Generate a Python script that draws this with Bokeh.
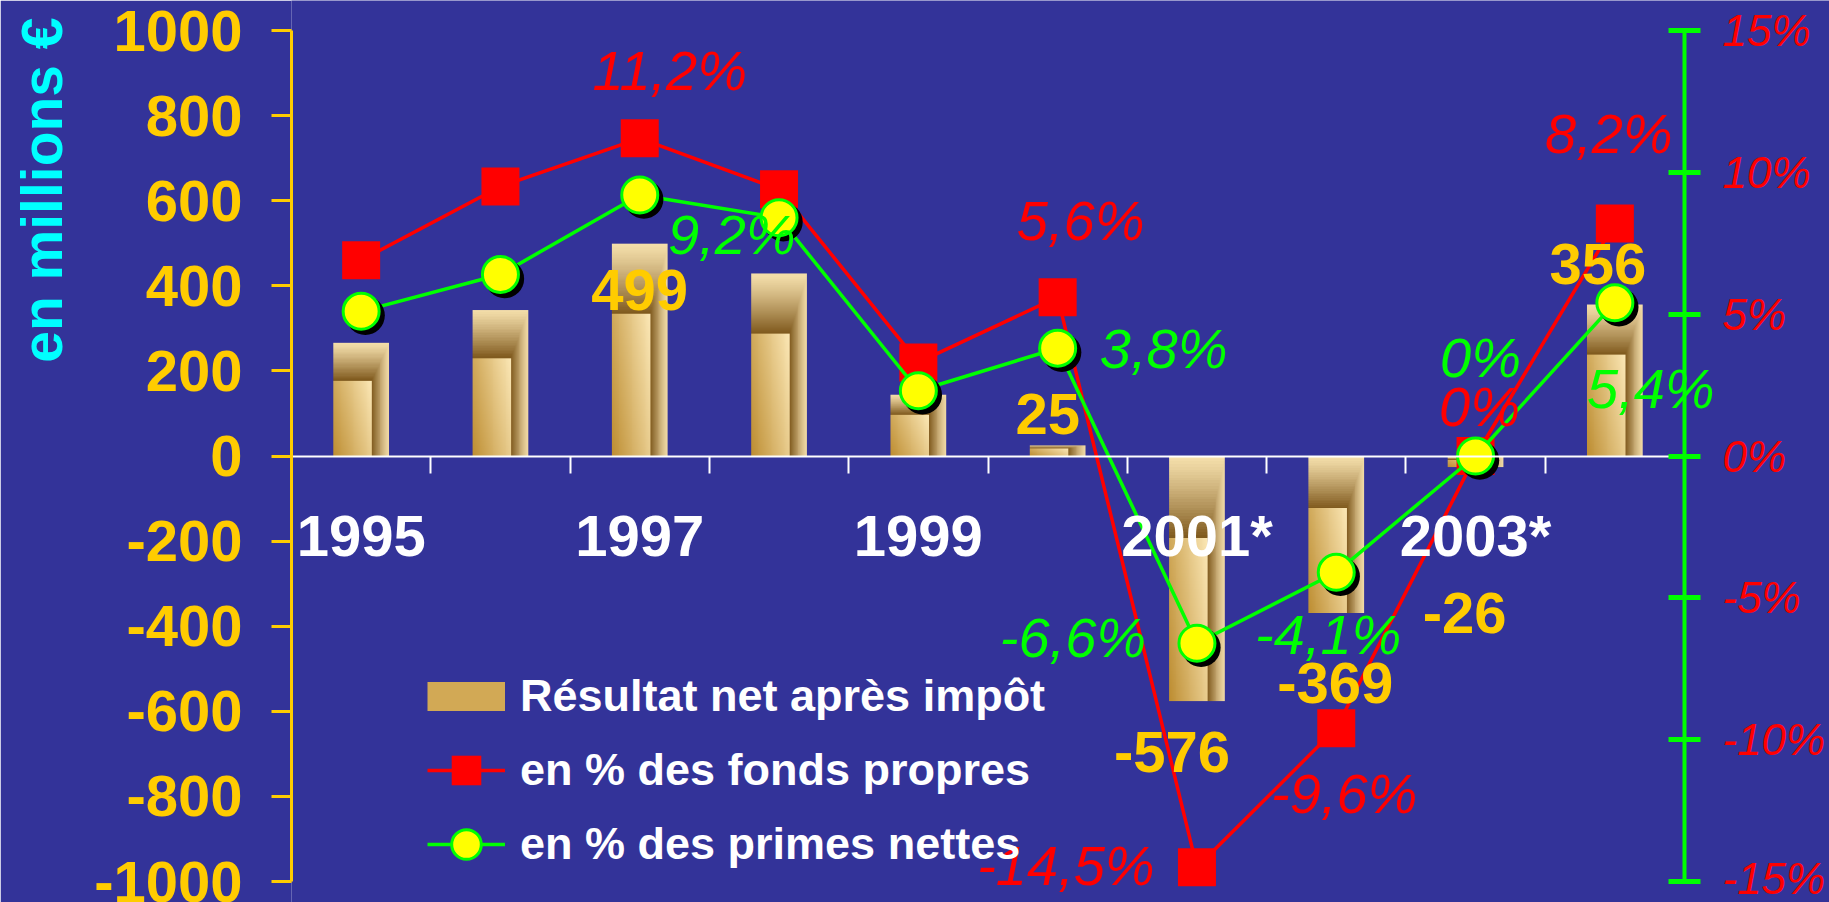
import numpy as np
from bokeh.plotting import figure
from bokeh.models import (ColumnDataSource, Range1d, LinearAxis, FixedTicker,
                          Legend, LegendItem, Title, LabelSet)
from bokeh.transform import dodge
from bokeh.core.properties import value
from bokeh.embed import file_html
from bokeh.resources import INLINE

# ---------------- data ----------------
years = ["1995", "1996", "1997", "1998", "1999", "2000", "2001", "2002", "2003", "2004"]
year_labels = ["1995", "", "1997", "", "1999", "", "2001*", "", "2003*", ""]
resultat = [266, 343, 499, 429, 144, 25, -576, -369, -26, 356]
resultat_labels = ["", "", "499", "", "", "25", "-576", "-369", "-26", "356"]
fonds_propres = [6.9, 9.5, 11.2, 9.4, 3.3, 5.6, -14.5, -9.6, 0.0, 8.2]
fonds_labels = ["", "", "11,2%", "", "", "5,6%", "-14,5%", "-9,6%", "0%", "8,2%"]
primes = [5.1, 6.4, 9.2, 8.4, 2.3, 3.8, -6.6, -4.1, 0.0, 5.4]
primes_labels = ["", "", "9,2%", "", "", "3,8%", "-6,6%", "-4,1%", "0%", "5,4%"]
left_ticks = [-1000, -800, -600, -400, -200, 0, 200, 400, 600, 800, 1000]
left_tick_labels = ["-1000", "-800", "-600", "-400", "-200", "0", "200", "400", "600", "800", "1000"]
pct_ticks = [-15, -10, -5, 0, 5, 10, 15]
pct_tick_labels = ["-15%", "-10%", "-5%", "0%", "5%", "10%", "15%"]
legend_labels = ["Résultat net après impôt", "en % des fonds propres", "en % des primes nettes"]
left_lim = 1000
pct_lim = 15

# ---------------- label offsets (screen px; dx right, dy up; style) ----------------
bar_lab_dx = [0, 0, 0, 0, 0, -10, -25, -1, -11, -17]
bar_lab_dy = [0, 0, -46, 0, 0, 31, -51, -70, -146, 41]
fp_lab_dx = [0, 0, 30, 0, 0, 23, -131, 8, 4, -6]
fp_lab_dy = [0, 0, 68, 0, 0, 77, 2, -65, 50, 90]
pr_lab_dx = [0, 0, 92, 0, 0, 106, -124, -8, 5, 36]
pr_lab_dy = [0, 0, -39, 0, 0, 0, 6, -62, 99, -86]

BG = "#333399"
FONT = "Liberation Sans"

# layout (pixels)
W, H = 1829, 902
FRAME_LEFT, AXIS_RIGHT, AXIS_TOP, AXIS_BOTTOM = 291, 1684, 30, 881
HALF = (AXIS_BOTTOM - AXIS_TOP) / 2

# ---------------- gold bar texture (style) ----------------
TH, TW = 90, 60
rows = np.arange(TH)
cols = np.arange(TW)
tt = np.broadcast_to(1.0 - (rows[:, None] + 0.5) / TH, (TH, TW))   # 0 at top of bar
uu = np.broadcast_to((cols[None, :] + 0.5) / TW, (TH, TW))         # 0 at left of bar
light = np.array([246, 224, 172], dtype=float)
dark = np.array([128, 90, 30], dtype=float)
gold = np.array([190, 142, 50], dtype=float)
cream = np.array([252, 232, 182], dtype=float)
band, split = 0.33, 0.68
a = np.clip(tt / band, 0, 1)
b = np.clip((1 - uu) / (1 - split), 0, 1)
inner = (uu < split) & (tt > band)
s = np.where(uu >= split, np.where(tt < band, np.minimum(a, b), b), a)
frame_c = light + (dark - light) * (s[..., None] ** 1.2)
f = np.clip(0.7 * uu / split + 0.3 * (1 - (tt - band) / (1 - band)), 0, 1)
inner_c = gold + (cream - gold) * f[..., None]
rgb = np.where(inner[..., None], inner_c, frame_c)
tex = np.empty((TH, TW), dtype=np.uint32)
view = tex.view(dtype=np.uint8).reshape((TH, TW, 4))
for k in range(3):
    view[..., k] = rgb[..., k].astype(np.uint8)
view[..., 3] = 255

# ---------------- figure ----------------
n = len(years)
xpos = [i + 0.5 for i in range(n)]          # category centres on a 0..n slot scale
# the frame runs to the canvas right/top/bottom edges so labels there are not clipped
x_end = n * (W - FRAME_LEFT) / (AXIS_RIGHT - FRAME_LEFT)
hi_ratio = 1 + AXIS_TOP / HALF
lo_ratio = 1 + (H - AXIS_BOTTOM) / HALF

p = figure(x_range=Range1d(0, x_end),
           y_range=Range1d(-left_lim * lo_ratio, left_lim * hi_ratio),
           width=W, height=H, output_backend="svg", toolbar_location=None,
           background_fill_color=BG, border_fill_color=BG, outline_line_color=None,
           min_border_left=FRAME_LEFT, min_border_right=0, min_border_top=0,
           min_border_bottom=0)
p.extra_y_ranges = {"pct": Range1d(-pct_lim * lo_ratio, pct_lim * hi_ratio)}
p.xgrid.visible = False
p.ygrid.visible = False

src = ColumnDataSource(dict(
    x=xpos,
    bottom=[min(0, v) for v in resultat],
    height=[abs(v) for v in resultat],
    res=resultat,
    res_lab=resultat_labels,
    img=[tex for _ in years],
    fp=fonds_propres, fp_lab=fonds_labels,
    pr=primes, pr_lab=primes_labels,
    bdx=bar_lab_dx, bdy=bar_lab_dy,
    fdx=fp_lab_dx, fdy=fp_lab_dy,
    pdx=pr_lab_dx, pdy=pr_lab_dy,
))

# bars (gold textured)
p.image_rgba(image="img", x=dodge("x", -0.2), y="bottom", dw=0.4, dh="height", source=src)

# red series
red_line = p.line("x", "fp", y_range_name="pct", line_color="#FF0000", line_width=3.5, source=src)
red_sq = p.scatter("x", "fp", y_range_name="pct", marker="square", size=38,
                   fill_color="#FF0000", line_color=None, source=src)
# green series
green_line = p.line("x", "pr", y_range_name="pct", line_color="#00FF00", line_width=3.5, source=src)
p.scatter(x=dodge("x", 0.03), y=dodge("pr", -0.15), y_range_name="pct",
          marker="circle", size=39, fill_color="black", line_color=None, source=src)
green_c = p.scatter("x", "pr", y_range_name="pct", marker="circle", size=36,
                    fill_color="#FFFF00", line_color="#00FF00", line_width=3, source=src)

# data labels
p.add_layout(LabelSet(x="x", y="res", text="res_lab", x_offset="bdx", y_offset="bdy", source=src,
                      text_font=value(FONT), text_font_size="58px", text_font_style="bold",
                      text_color="#FFCC00", text_align="center", text_baseline="middle"))
p.add_layout(LabelSet(x="x", y="fp", text="fp_lab", x_offset="fdx", y_offset="fdy", source=src,
                      y_range_name="pct", text_font=value(FONT), text_font_size="56px",
                      text_font_style="italic", text_color="#FF0000", text_align="center",
                      text_baseline="middle"))
p.add_layout(LabelSet(x="x", y="pr", text="pr_lab", x_offset="pdx", y_offset="pdy", source=src,
                      y_range_name="pct", text_font=value(FONT), text_font_size="56px",
                      text_font_style="italic", text_color="#00FF00", text_align="center",
                      text_baseline="middle"))

# ---------------- axes ----------------
ya = p.yaxis[0]
ya.ticker = FixedTicker(ticks=left_ticks)
ya.bounds = (-left_lim, left_lim)
ya.major_label_overrides = dict(zip(left_ticks, left_tick_labels))
ya.axis_line_color = "#FFCC00"
ya.axis_line_width = 3
ya.major_tick_line_color = "#FFCC00"
ya.major_tick_line_width = 3
ya.major_tick_in = 0
ya.major_tick_out = 20
ya.minor_tick_line_color = None
ya.major_label_standoff = 29
ya.major_label_text_color = "#FFCC00"
ya.major_label_text_font = FONT
ya.major_label_text_font_size = "58px"
ya.major_label_text_font_style = "bold"

ra = LinearAxis(y_range_name="pct", ticker=FixedTicker(ticks=pct_ticks), bounds=(-pct_lim, pct_lim),
                fixed_location=n,
                major_label_overrides=dict(zip(pct_ticks, pct_tick_labels)),
                axis_line_color="#00FF00", axis_line_width=4,
                major_tick_line_color="#00FF00", major_tick_line_width=5,
                major_tick_in=16, major_tick_out=16, minor_tick_line_color=None,
                major_label_standoff=22, major_label_text_color="#FF0000",
                major_label_text_font=FONT, major_label_text_font_size="44px",
                major_label_text_font_style="italic")
p.add_layout(ra, "right")

# category labels (at category centres), no line / ticks
xa = p.xaxis[0]
xa.ticker = FixedTicker(ticks=xpos)
xa.major_label_overrides = dict(zip(xpos, year_labels))
xa.fixed_location = 0
xa.axis_line_color = None
xa.major_tick_line_color = None
xa.minor_tick_line_color = None
xa.major_tick_out = 0
xa.major_tick_in = 0
xa.major_label_standoff = 47
xa.major_label_text_color = "white"
xa.major_label_text_font = FONT
xa.major_label_text_font_size = "58px"
xa.major_label_text_font_style = "bold"

# zero line with ticks between categories
slot_axis = LinearAxis(ticker=FixedTicker(ticks=list(range(n + 1))), bounds=(0, n),
                       fixed_location=0, axis_line_color="white", axis_line_width=2,
                       major_tick_line_color="white", major_tick_line_width=2,
                       major_tick_in=0, major_tick_out=17, minor_tick_line_color=None,
                       major_label_text_font_size="0px")
p.add_layout(slot_axis, "below")

# spacer between the left axis and its title, then the title itself
p.add_layout(Title(text=" ", text_font_size="1px", text_color=BG), "left")
p.add_layout(Title(text="en millions €", align="right", offset=17,
                   text_color="#00FFFF", text_font=FONT, text_font_size="57px",
                   text_font_style="bold"), "left")

# ---------------- legend ----------------
proxy_src = ColumnDataSource(dict(x=[0.5], y=[float("nan")]))
bar_proxy = p.line("x", "y", source=proxy_src, line_color="#D2A955", line_width=29)
legend = Legend(items=[LegendItem(label=legend_labels[0], renderers=[bar_proxy]),
                       LegendItem(label=legend_labels[1], renderers=[red_line, red_sq]),
                       LegendItem(label=legend_labels[2], renderers=[green_line, green_c])],
                location=(136, H - AXIS_BOTTOM), background_fill_alpha=0, border_line_color=None,
                label_text_color="white", label_text_font=FONT, label_text_font_size="45px",
                label_text_font_style="bold", glyph_width=78, glyph_height=74,
                label_standoff=15, spacing=0, padding=0, margin=0)
p.add_layout(legend)

open("out.html", "w").write(file_html(p, INLINE))
